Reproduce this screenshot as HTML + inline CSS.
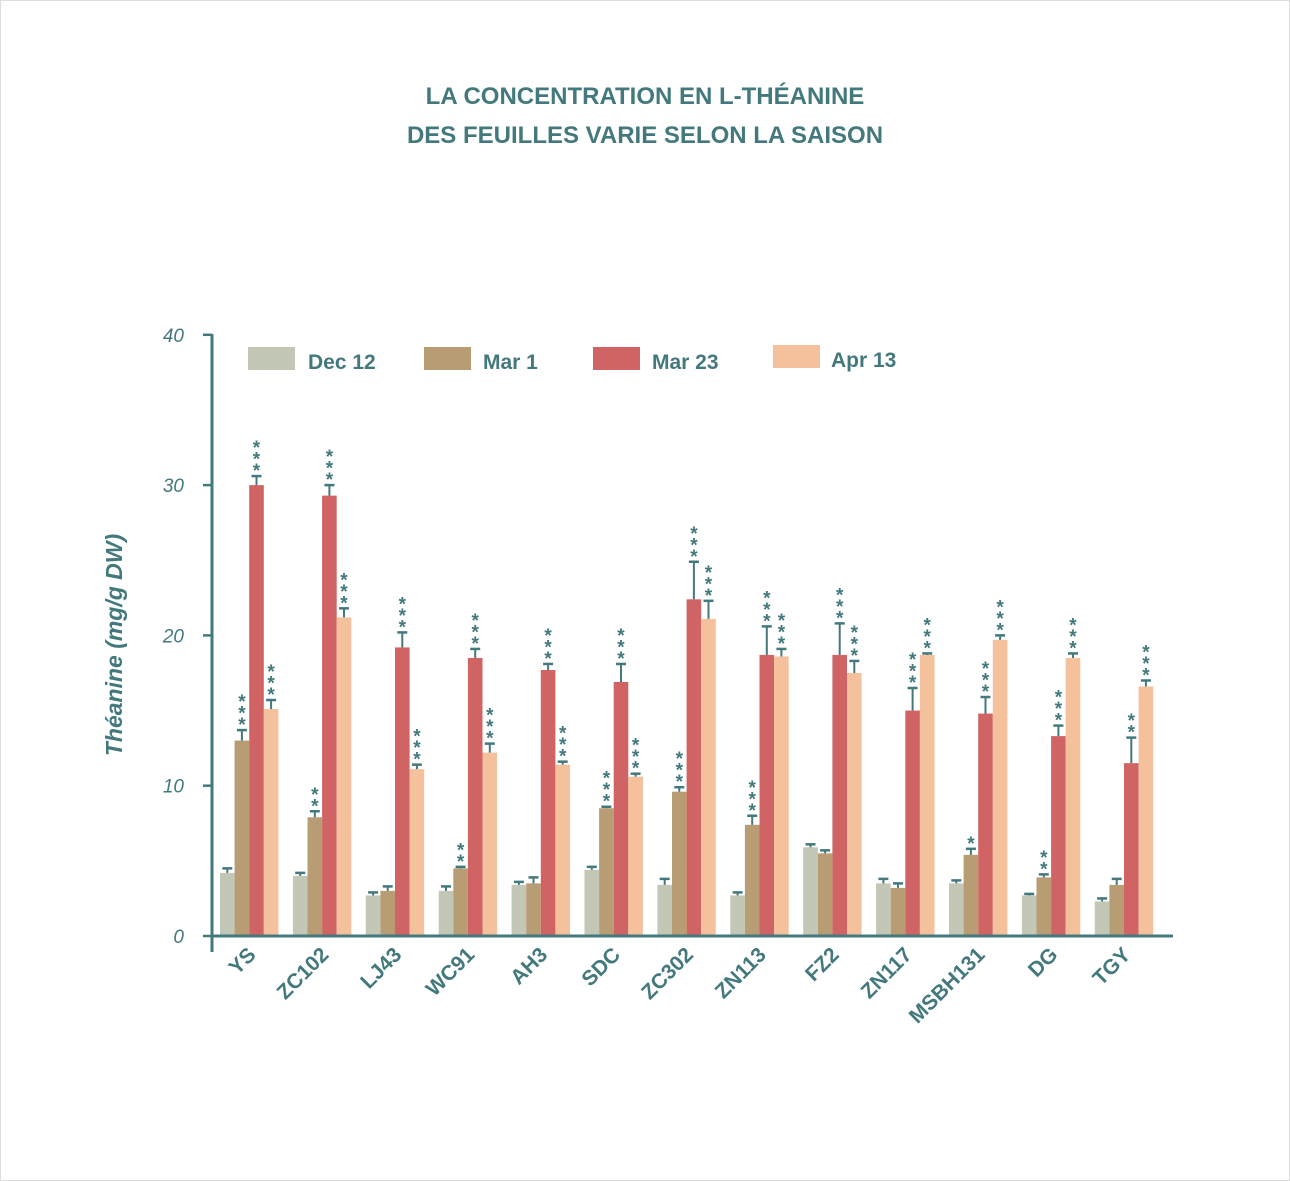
<!DOCTYPE html>
<html><head><meta charset="utf-8"><style>
html,body{margin:0;padding:0;background:#fff;}
svg{display:block;font-family:"Liberation Sans",sans-serif;}
</style></head><body>
<svg id="s" width="1290" height="1181" xmlns="http://www.w3.org/2000/svg">
<rect x="0.5" y="0.5" width="1289" height="1180" fill="#fff" stroke="#ddd"/>
<g fill="#43797c" font-weight="bold" font-size="24" text-anchor="middle">
<text x="645" y="104">LA CONCENTRATION EN L-THÉANINE</text>
<text x="645" y="143">DES FEUILLES VARIE SELON LA SAISON</text>
</g>
<text transform="translate(122,645) rotate(-90)" text-anchor="middle" fill="#43797c" font-size="23" font-weight="bold" font-style="italic">Théanine (mg/g DW)</text>
<g id="g"></g>
</svg>
<script>
var g=document.getElementById('g'),h='';
var C='#43797c';
function y(v){return 936-v*15.03;}
var cols=['#c2c7b6','#b89d74','#d06464','#f5c09c'];
var names=['YS','ZC102','LJ43','WC91','AH3','SDC','ZC302','ZN113','FZ2','ZN117','MSBH131','DG','TGY'];
var V=[[4.2,13.0,30.0,15.1],[4.0,7.9,29.3,21.2],[2.7,3.0,19.2,11.1],[3.0,4.5,18.5,12.2],[3.4,3.5,17.7,11.4],[4.4,8.5,16.9,10.6],[3.4,9.6,22.4,21.1],[2.7,7.4,18.7,18.6],[5.9,5.5,18.7,17.5],[3.5,3.2,15.0,18.7],[3.5,5.4,14.8,19.7],[2.7,3.9,13.3,18.5],[2.3,3.4,11.5,16.6]];
var E=[[4.5,13.7,30.6,15.7],[4.2,8.3,30.0,21.8],[2.9,3.3,20.2,11.4],[3.3,4.6,19.1,12.8],[3.6,3.9,18.1,11.6],[4.6,8.6,18.1,10.8],[3.8,9.9,24.9,22.3],[2.9,8.0,20.6,19.1],[6.1,5.7,20.8,18.3],[3.8,3.5,16.5,18.8],[3.7,5.8,15.9,20.0],[2.8,4.1,14.0,18.8],[2.5,3.8,13.2,17.0]];
var S=[[0,3,3,3],[0,2,3,3],[0,0,3,3],[0,2,3,3],[0,0,3,3],[0,3,3,3],[0,3,3,3],[0,3,3,3],[0,0,3,3],[0,0,3,3],[0,1,3,3],[0,2,3,3],[0,0,2,3]];
for(var i=0;i<13;i++){
 var x0=220+i*72.9;
 for(var j=0;j<4;j++){
  var x=x0+j*14.6,w=14.6,cx=x+w/2;
  h+='<rect x="'+x+'" y="'+y(V[i][j])+'" width="'+w+'" height="'+(V[i][j]*15.03)+'" fill="'+cols[j]+'"/>';
  var ye=y(E[i][j]);
  h+='<line x1="'+cx+'" x2="'+cx+'" y1="'+ye+'" y2="'+y(V[i][j])+'" stroke="'+C+'" stroke-width="2"/>';
  h+='<line x1="'+(cx-5)+'" x2="'+(cx+5)+'" y1="'+ye+'" y2="'+ye+'" stroke="'+C+'" stroke-width="2.5"/>';
  for(var k=0;k<S[i][j];k++){
   h+='<text x="'+cx+'" y="'+(ye+1-k*11.5)+'" text-anchor="middle" font-size="19" font-weight="bold" fill="'+C+'">*</text>';
  }
 }
 h+='<text transform="translate('+(x0+37)+',956) rotate(-45)" text-anchor="end" font-size="21" font-weight="bold" fill="'+C+'">'+names[i]+'</text>';
}
h+='<line x1="212" y1="334" x2="212" y2="952" stroke="'+C+'" stroke-width="3"/>';
h+='<line x1="211" y1="936" x2="1173" y2="936" stroke="'+C+'" stroke-width="3"/>';
for(var t=0;t<=40;t+=10){
 h+='<line x1="203" x2="212" y1="'+y(t)+'" y2="'+y(t)+'" stroke="'+C+'" stroke-width="2.5"/>';
 h+='<text x="184" y="'+(y(t)+7)+'" text-anchor="end" font-size="19" font-style="italic" fill="'+C+'">'+t+'</text>';
}
var L=[[248,347,308,'Dec 12'],[424,347,483,'Mar 1'],[593,347,652,'Mar 23'],[773,345,831,'Apr 13']];
for(var j=0;j<4;j++){
 h+='<rect x="'+L[j][0]+'" y="'+L[j][1]+'" width="47" height="23" fill="'+cols[j]+'"/>';
 h+='<text x="'+L[j][2]+'" y="'+(L[j][1]+22)+'" font-size="21" font-weight="bold" fill="'+C+'">'+L[j][3]+'</text>';
}
g.innerHTML=h;
</script>
</body></html>
